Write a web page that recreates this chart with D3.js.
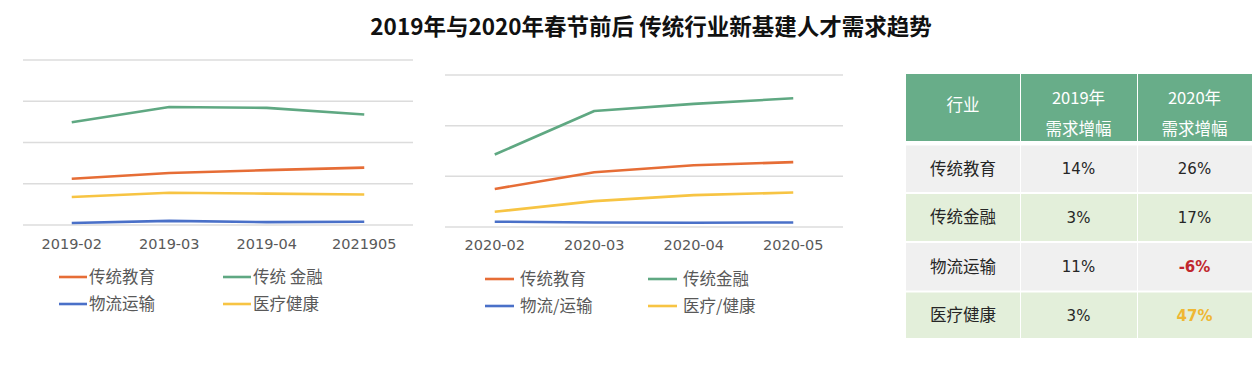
<!DOCTYPE html>
<html><head><meta charset="utf-8">
<script src="https://cdn.jsdelivr.net/npm/d3@7"></script>
<style>
html,body{margin:0;padding:0;background:#fff;}
svg{display:block;}
</style></head>
<body>
<svg id="chart" width="1260" height="392"></svg>
<script>
const titleText = "2019年与2020年春节前后 传统行业新基建人才需求趋势";
const months2019 = ["2019-02","2019-03","2019-04","2021905"];
const months2020 = ["2020-02","2020-03","2020-04","2020-05"];
const names2019 = ["传统教育","传统 金融","物流运输","医疗健康"];
const names2020 = ["传统教育","传统金融","物流/运输","医疗/健康"];
const edu2019 = [1.12,1.26,1.33,1.39];
const fin2019 = [2.49,2.86,2.84,2.68];
const log2019 = [0.05,0.10,0.07,0.08];
const med2019 = [0.68,0.78,0.76,0.74];
const edu2020 = [0.75,1.08,1.22,1.28];
const fin2020 = [1.43,2.29,2.43,2.54];
const log2020 = [0.105,0.09,0.085,0.09];
const med2020 = [0.30,0.51,0.63,0.68];
const gridTicks2019 = [0,1,2,3,4];
const gridTicks2020 = [0,1,2,3];
const tableHeader = ["行业","2019年\n需求增幅","2020年\n需求增幅"];
const industries = ["传统教育","传统金融","物流运输","医疗健康"];
const growth2019 = ["14%","3%","11%","3%"];
const growth2020 = ["26%","17%","-6%","47%"];

const colors = ["#e66d36","#5fa882","#4a70c8","#f7c443"];
const svg = d3.select("#chart");

svg.append("text").attr("x",651).attr("y",35).attr("text-anchor","middle")
  .attr("font-family","'Noto Sans CJK SC','Noto Sans',sans-serif").attr("font-weight","bold")
  .attr("font-size",22.5).attr("fill","#111").text(titleText);

function drawChart(cfg){
  const g = svg.append("g");
  const x = d3.scaleBand().domain(cfg.months).range([cfg.x0,cfg.x1]);
  const y = d3.scaleLinear().domain([0,cfg.ymax]).range([cfg.yb,cfg.yt]);
  g.selectAll("line.grid").data(cfg.ticks).join("line").attr("class","grid")
    .attr("x1",cfg.x0).attr("x2",cfg.x1).attr("y1",d=>y(d)).attr("y2",d=>y(d))
    .attr("stroke","#dcdcdc").attr("stroke-width",1.5);
  const ax = g.append("g").attr("transform",`translate(0,${cfg.yb})`)
    .call(d3.axisBottom(x).tickSize(0).tickPadding(cfg.tickPad));
  ax.select(".domain").remove();
  ax.selectAll("text").attr("font-family","'DejaVu Sans',sans-serif").attr("font-size",14.5).attr("fill","#595959");
  const line = d3.line().x((d,i)=>x(cfg.months[i])+x.bandwidth()/2).y(d=>y(d));
  const order = [1,0,3,2];
  order.forEach(k=>{
    g.append("path").datum(cfg.series[k]).attr("d",line).attr("fill","none")
      .attr("stroke",colors[k]).attr("stroke-width",2.6).attr("stroke-linejoin","round");
  });
  cfg.names.forEach((n,k)=>{
    const col = k%2, row = Math.floor(k/2);
    const lx = cfg.legX[col], ly = cfg.legY[row];
    g.append("line").attr("x1",lx).attr("x2",lx+cfg.legLen).attr("y1",ly).attr("y2",ly)
      .attr("stroke",colors[k]).attr("stroke-width",2.6);
    g.append("text").attr("x",lx+cfg.legLen+cfg.legGap).attr("y",ly).attr("dy","0.35em")
      .attr("font-family","'Noto Sans CJK SC',sans-serif").attr("font-size",16.5)
      .attr("fill","#595959").text(n);
  });
}

drawChart({months:months2019,names:names2019,series:[edu2019,fin2019,log2019,med2019],
  x0:23,x1:413,yb:225,yt:60,ymax:4,ticks:gridTicks2019,tickPad:14,
  legX:[59,223],legY:[277,304],legLen:28,legGap:2});
drawChart({months:months2020,names:names2020,series:[edu2020,fin2020,log2020,med2020],
  x0:445,x1:843,yb:227,yt:75,ymax:3,ticks:gridTicks2020,tickPad:13,
  legX:[485,648],legY:[279,306],legLen:29,legGap:6});

// table
const colX = [906,1020,1137,1252];
const rowY = [74,145.5,193,242,291.5,339];
const tg = svg.append("g");
const gap = 1;
for(let c=0;c<3;c++){
  tg.append("rect").attr("x",colX[c]+(c?gap:0)).attr("y",rowY[0])
    .attr("width",colX[c+1]-colX[c]-(c?gap:0)).attr("height",rowY[1]-rowY[0]-4.5)
    .attr("fill","#68ad89");
  const lines = tableHeader[c].split("\n");
  const cx=(colX[c]+colX[c+1])/2;
  const t = tg.append("text").attr("x",cx).attr("text-anchor","middle")
    .attr("font-family","'Noto Sans CJK SC',sans-serif").attr("font-size",16.5).attr("fill","#fff");
  if(lines.length===1){ t.attr("y",105).attr("dy","0.35em").text(lines[0]); }
  else {
    lines.forEach((l,i)=>t.append("tspan").attr("x",cx).attr("y",i?129.5:98.5).attr("dy","0.35em").text(l));
  }
}
const rowFill = ["#f0f0f0","#e3efda","#f0f0f0","#e3efda"];
industries.forEach((ind,r)=>{
  const y0 = rowY[r+1]+(r?1:0), y1 = rowY[r+2]-1;
  const vals=[ind,growth2019[r],growth2020[r]];
  for(let c=0;c<3;c++){
    tg.append("rect").attr("x",colX[c]+(c?gap:0)).attr("y",y0)
      .attr("width",colX[c+1]-colX[c]-(c?gap:0)).attr("height",y1-y0).attr("fill",rowFill[r]);
    const cx=(colX[c]+colX[c+1])/2, cy=(y0+y1)/2;
    let fill="#262626", weight="normal", fam = c===0?"'Noto Sans CJK SC',sans-serif":"'DejaVu Sans',sans-serif";
    if(c===2 && vals[c]==="-6%"){fill="#c0272d";weight="bold";}
    if(c===2 && vals[c]==="47%"){fill="#efb733";weight="bold";}
    tg.append("text").attr("x",cx).attr("y",cy).attr("dy","0.35em").attr("text-anchor","middle")
      .attr("font-family",fam).attr("font-size",c===0?16.5:15).attr("font-weight",weight)
      .attr("fill",fill).text(vals[c]);
  }
});
</script>
</body></html>
